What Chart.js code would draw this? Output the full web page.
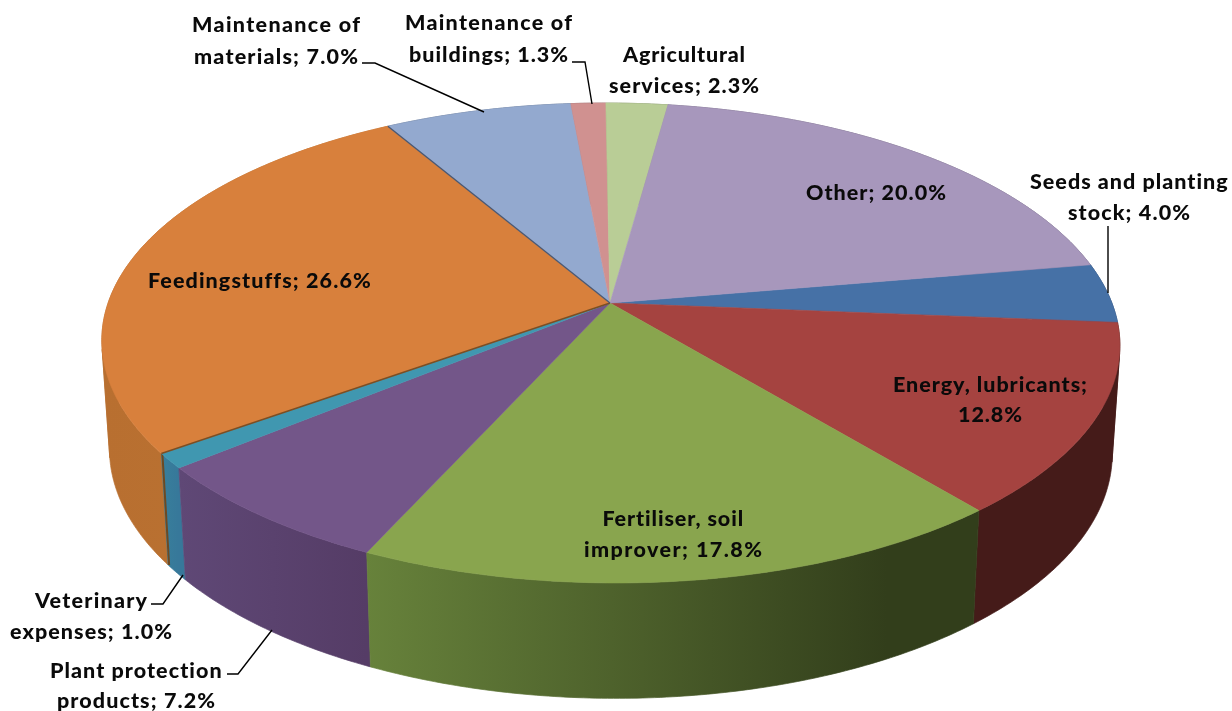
<!DOCTYPE html>
<html><head><meta charset="utf-8">
<style>html,body{margin:0;padding:0;background:#fff}canvas{display:block}</style>
<script src="https://cdn.jsdelivr.net/npm/chart.js@4"></script>
</head><body><canvas id="c" width="1232" height="711"></canvas>
<script>
const categories = ["Seeds and planting stock","Energy, lubricants","Fertiliser, soil improver","Plant protection products","Veterinary expenses","Feedingstuffs","Maintenance of materials","Maintenance of buildings","Agricultural services","Other"];
const shares = [4.0,12.8,17.8,7.2,1.0,26.6,7.0,1.3,2.3,20.0];
const firstSliceAngle = 80.3;
const topColors = ["#4671a6","#a54340","#89a54e","#735689","#4097b0","#d8803c","#93a9cf","#d09190","#b9cd96","#a797bc"];
// wall shading: colour at left and right end of the gradient
const wallColors = [["#2a4468","#2a4468"],["#451b19","#451b19"],["#67823b","#323e1b"],["#5f4876","#553c66"],["#387f9b","#37789a"],["#b86f30","#bc7433"],["#5a6a85","#5a6a85"],["#806060","#806060"],["#748060","#748060"],["#665c75","#665c75"]];
const lineBreaks = [3,2,2,2,1,0,2,2,1,0];
// [centre x, first line centre y, line gap, width of line 1, width of line 2]
const labelBoxes = [[1129,182,31,198,122],[990,385,30,194,64],[673,519,31,141,178],[136,671,30,172,158],[91,601,31,112,162],[259,281,0,222,0],[276,25,32,168,164],[488.5,23,32,167,159],[684,55,31,122,150],[876,193,0,140,0]];
const leaders = [[[1108,226],[1108,293]],null,null,[[227,674],[238,674],[272,630]],[[151,604],[163,604],[183,575]],null,[[362,63],[375,63],[484,112]],[[572,62],[585,62],[592,104]],null,null];

const P = {cx:610, cy:303, ax:501.9, by:233.3, k:1/6, sx:.985, yb:410, sy:1.03, shear:5};
function topPt(u,v){const w=1-P.k*v;return [P.cx+(P.ax*u+P.shear*v)/w,P.cy+P.by*v/w];}
function botPt(u,v){const w=1-P.k*v;return [P.cx+(P.sx*P.ax*u+P.shear*v)/w,P.yb+P.sy*P.by*v/w];}
function arcPts(a,f){
  const n=Math.max(2,Math.ceil((a.endAngle-a.startAngle)/0.01)),out=[];
  for(let s=0;s<=n;s++){const t=a.startAngle+(a.endAngle-a.startAngle)*s/n;out.push(f(Math.cos(t),Math.sin(t)));}
  return out;
}
function quadSign(a,b,c,d){
  const pts=[a,b,c,d];let A=0;
  for(let i=0;i<4;i++){const p=pts[i],q=pts[(i+1)%4];A+=p[0]*q[1]-q[0]*p[1];}
  return A>=0?1:-1;
}

const pie3d = {
  id:'pie3d',
  beforeDatasetsDraw(chart){
    const ctx=chart.ctx, arcs=chart.getDatasetMeta(0).data;
    ctx.save();
    const order=arcs.map((a,i)=>({a,i,v:Math.max(...arcPts(a,(u,v)=>v))})).sort((p,q)=>p.v-q.v);
    order.forEach(({a,i})=>{
      const tp=arcPts(a,topPt),bp=arcPts(a,botPt);
      const xs=tp.map(p=>p[0]),x0=Math.min(...xs),x1=Math.max(...xs);
      const g=ctx.createLinearGradient(x0,0,i===2?x0+(x1-x0)*.85:x1,0);
      g.addColorStop(0,wallColors[i][0]);g.addColorStop(1,wallColors[i][1]);
      ctx.fillStyle=g;ctx.strokeStyle=g;ctx.lineWidth=.7;
      // one polygon per run of same-facing wall, split where the wall folds at the silhouette
      let start=0;
      const flush=(from,to)=>{
        const poly=tp.slice(from,to+1).concat(bp.slice(from,to+1).reverse());
        ctx.beginPath();poly.forEach((p,j)=>j?ctx.lineTo(...p):ctx.moveTo(...p));ctx.closePath();ctx.fill();ctx.stroke();
      };
      let sign=quadSign(tp[0],tp[1],bp[1],bp[0]);
      for(let s=1;s<tp.length-1;s++){
        const sg=quadSign(tp[s],tp[s+1],bp[s+1],bp[s]);
        if(sg!==sign){flush(start,s);start=s;sign=sg;}
      }
      flush(start,tp.length-1);
    });
    // exposed cut face of the feedingstuffs slice
    const fs=arcs[5].startAngle, fe=topPt(Math.cos(fs),Math.sin(fs)), fb=botPt(Math.cos(fs),Math.sin(fs));
    ctx.strokeStyle="#6e4a22";ctx.lineWidth=2;ctx.beginPath();ctx.moveTo(fe[0]+1,fe[1]);ctx.lineTo(fb[0]+1,fb[1]);ctx.stroke();
    // top faces
    arcs.forEach((a,i)=>{
      ctx.fillStyle=ctx.strokeStyle=topColors[i];ctx.lineWidth=.6;
      ctx.beginPath();ctx.moveTo(P.cx,P.cy);
      arcPts(a,topPt).forEach(p=>ctx.lineTo(...p));
      ctx.closePath();ctx.fill();ctx.stroke();
    });
    // dark edges either side of the feedingstuffs slice
    [[fs,"#7a4f26"],[arcs[5].endAngle,"#4d5870"]].forEach(([t,col])=>{
      ctx.strokeStyle=col;ctx.lineWidth=1.4;ctx.beginPath();ctx.moveTo(P.cx,P.cy);ctx.lineTo(...topPt(Math.cos(t),Math.sin(t)));ctx.stroke();
    });
    ctx.restore();
    return false;
  },
  afterDraw(chart){
    const ctx=chart.ctx;
    ctx.save();
    ctx.strokeStyle="#000";ctx.lineWidth=1.4;
    leaders.forEach(l=>{if(!l)return;ctx.beginPath();l.forEach((p,i)=>i?ctx.lineTo(...p):ctx.moveTo(...p));ctx.stroke();});
    ctx.fillStyle="#0a0a0a";ctx.font="900 21.5px Lato";ctx.textAlign="left";ctx.textBaseline="middle";
    categories.forEach((c,i)=>{
      const words=`${c}; ${shares[i].toFixed(1)}%`.split(" ");
      const lb=lineBreaks[i];
      const lines=lb?[words.slice(0,lb).join(" "),words.slice(lb).join(" ")]:[words.join(" ")];
      const [x,y,gap,w1,w2]=labelBoxes[i];
      lines.forEach((t,j)=>{
        const target=j?w2:w1;
        ctx.letterSpacing="0px";
        const base=ctx.measureText(t).width;
        const ls=(target-base)/Math.max(1,t.length-1);
        ctx.letterSpacing=ls.toFixed(3)+"px";
        ctx.fillText(t,x-target/2,y+j*gap);
      });
    });
    ctx.letterSpacing="0px";
    ctx.restore();
  }
};

new Chart(document.getElementById('c'),{
  type:'pie',
  data:{labels:categories,datasets:[{data:shares,backgroundColor:topColors,borderWidth:0}]},
  options:{responsive:false,animation:false,rotation:firstSliceAngle,
    layout:{padding:0},
    plugins:{legend:{display:false},tooltip:{enabled:false}}},
  plugins:[pie3d]
});
</script></body></html>
